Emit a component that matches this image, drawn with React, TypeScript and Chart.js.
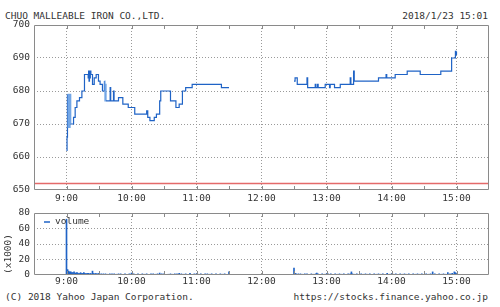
import React, { useEffect, useRef } from "react";
import { Chart, registerables } from "chart.js";
Chart.register(...registerables);

const FONT = '"DejaVu Sans Mono", monospace';
const TEXT = "#333333";
const GRID = "#9a9a9a";
const FRAME = "#8a8a8a";
const LINE = "#1f63c6";
const LIGHT = "#72a6e6";
const RED = "#e46a6a";

const TITLE = "CHUO MALLEABLE IRON CO.,LTD.";
const STAMP = "2018/1/23 15:01";
const COPYRIGHT = "(C) 2018 Yahoo Japan Corporation.";
const SOURCE = "https://stocks.finance.yahoo.co.jp";
const VOLUME_LABEL = "volume";
const VOLUME_UNIT = "(x1000)";

// x values are minutes after 9:00
const hourLabels = ["9:00", "10:00", "11:00", "12:00", "13:00", "14:00", "15:00"];

const morningMinutes = [
  0, 0.5, 0.9, 1.5, 2.1, 2.7, 3.3, 3.9, 6.5, 8, 9.6, 12, 14.2, 16.6,
  20, 20.4, 20.8, 21.2, 21.6, 22, 22.5, 24, 25.6, 27.4, 29.5, 31, 33.2,
  35, 35.5, 36, 36.5, 40.3, 40.8, 43.4, 43.9, 48, 52, 57, 63, 74, 75, 77,
  81, 83, 86, 87, 96, 101, 104, 107, 110, 116, 143, 150,
];
const morningPrices = [
  662, 666, 679, 669, 679, 669, 679, 670, 672, 675, 677, 678, 680, 685,
  684, 686, 683, 686, 684, 686, 685, 682, 684, 685, 683, 682, 680,
  683, 677, 682, 677, 681, 677, 680, 677, 678, 676, 675, 673, 674, 672, 671,
  672, 673, 677, 680, 677, 675, 676, 680, 681, 682, 681, 681,
];
// stretches traded back and forth so fast that the reference shows them as pale bands
const paleBands = [
  [0.9, 3.9],
  [34.9, 36.5],
];

const afternoonMinutes = [
  210, 211, 213, 222, 222.6, 229.6, 230.2, 231.7, 232.3, 238.8, 242.8, 243.4,
  247.4, 252.7, 261.9, 262.5, 265, 265.6, 288, 295, 295.6, 303.4, 314.5,
  326.5, 345.5, 355.5, 359, 359.5, 360,
];
const afternoonPrices = [
  683, 684, 682, 684, 681, 682, 681, 682, 681, 682, 681, 682,
  681, 682, 684, 682, 686, 683, 684, 685, 684, 685, 686,
  685, 686, 690, 692, 691, 692,
];

const previousClose = 652;

const volumeMinutes = [
  0, 1, 2, 3, 4, 5, 6, 7, 8, 9,
  10, 11, 12, 13, 14, 15, 16, 17, 18, 19,
  20, 21, 22, 23, 24, 25, 26, 27, 28, 29,
  30, 32, 34, 36, 38, 40, 42, 44, 46, 48,
  50, 52, 54, 56, 58, 60, 62, 64, 66, 68,
  70, 72, 74, 76, 78, 80, 82, 84, 86, 88,
  90, 92, 94, 96, 98, 100, 102, 104, 106, 108,
  110, 112, 114, 116, 118, 120, 122, 124, 126, 128,
  130, 132, 134, 136, 138, 140, 142, 144, 146, 148,
  150,
  210, 211, 212, 214, 216, 218, 220, 222, 224, 226,
  228, 230, 231, 232, 234, 236, 238, 240, 241, 242,
  244, 246, 248, 250, 252, 254, 256, 258, 260, 262,
  263, 264, 266, 268, 270, 272, 274, 276, 278, 280,
  282, 284, 286, 288, 290, 292, 294, 296, 298, 300,
  302, 304, 306, 308, 310, 312, 314, 316, 318, 320,
  322, 324, 326, 328, 330, 332, 334, 336, 338, 340,
  342, 344, 346, 348, 350, 352, 354, 356, 358, 359,
  360,
];
const volumeValues = [
  72, 7, 5, 4, 4, 3, 3, 4, 2, 3,
  3, 2, 2, 3, 2, 2, 3, 2, 1.5, 2,
  2, 1.5, 2, 1.5, 5, 2, 1.5, 2, 1.5, 1.5,
  2, 1.5, 1.5, 1.5, 1, 1.5, 1.5, 1.5, 1, 1.5,
  1.5, 1, 1.5, 1, 1.5, 2.5, 1.5, 1, 1.5, 1,
  1.5, 1, 1.5, 1, 1.5, 1.5, 1, 1.5, 2.5, 1.5,
  1.5, 1, 1, 1.5, 1, 1.5, 1.5, 2, 1.5, 1,
  1.5, 1, 2, 1, 1.5, 1.5, 1, 1.5, 1, 1.5,
  1.5, 1, 1.5, 1, 1.5, 1, 1.5, 1, 1.5, 1,
  4,
  9, 2, 1.5, 1.5, 1.5, 1, 1.5, 1.5, 1, 1.5,
  1, 1.5, 2.5, 1.5, 1, 1.5, 1, 1.5, 2, 1,
  1.5, 1, 1.5, 1, 1.5, 1, 1.5, 1, 1.5, 1.5,
  4, 1.5, 1, 1.5, 1, 1.5, 1, 1.5, 1, 1.5,
  1, 1.5, 1, 1.5, 1, 1.5, 1, 2, 1, 1.5,
  1, 1.5, 1, 1.5, 1, 1.5, 1, 1.5, 1, 1.5,
  1, 1.5, 1, 1.5, 1, 1.5, 1, 1.5, 4, 1.5,
  1, 1.5, 1, 1.5, 1, 3, 1.5, 2, 4, 3,
  1.5,
];

const X_MIN = -30;
const X_MAX = 390;

const pts = (xs: number[], ys: number[]) => xs.map((x, i) => ({ x, y: ys[i] }));

const hourLabel = (v: number) => (v % 60 === 0 && v >= 0 ? hourLabels[v / 60] ?? "" : "");

const inPaleBand = (x: number) => paleBands.some(([a, b]) => x >= a && x < b);

const framePlugin = {
  id: "frame",
  afterDatasetsDraw(chart: any) {
    const { ctx, chartArea: a, scales } = chart;
    const x = scales.x;
    ctx.save();
    ctx.strokeStyle = FRAME;
    ctx.lineWidth = 1;
    ctx.beginPath();
    ctx.rect(Math.round(a.left) + 0.5, Math.round(a.top) + 0.5, Math.round(a.right - a.left) - 1, Math.round(a.bottom - a.top) - 1);
    for (let m = 0; m <= 360; m += 30) {
      const px = Math.round(x.getPixelForValue(m)) + 0.5;
      ctx.moveTo(px, a.top);
      ctx.lineTo(px, a.top + 4);
      ctx.moveTo(px, a.bottom);
      ctx.lineTo(px, a.bottom - 4);
    }
    ctx.stroke();
    ctx.restore();
  },
};

const volumeDecor = {
  id: "volumeDecor",
  afterDraw(chart: any) {
    const { ctx, chartArea: a } = chart;
    ctx.save();
    ctx.font = `9.5px ${FONT}`;
    ctx.fillStyle = TEXT;
    ctx.textBaseline = "middle";
    const ly = a.top + 9;
    ctx.strokeStyle = LINE;
    ctx.lineWidth = 1.5;
    ctx.beginPath();
    ctx.moveTo(a.left + 10, ly);
    ctx.lineTo(a.left + 16, ly);
    ctx.stroke();
    ctx.textAlign = "left";
    ctx.fillText(VOLUME_LABEL, a.left + 21, ly);
    ctx.translate(8.5, (a.top + a.bottom) / 2 + 10);
    ctx.rotate(-Math.PI / 2);
    ctx.textAlign = "center";
    ctx.fillText(VOLUME_UNIT, 0, 0);
    ctx.restore();
  },
};

const tickFont = { family: FONT, size: 9.5 };

const xScale = (labelPad: number, height: number) => ({
  type: "linear" as const,
  min: X_MIN,
  max: X_MAX,
  offset: false,
  grid: {
    offset: false,
    drawTicks: false,
    lineWidth: 1,
    color: (c: any) => (c.tick && c.tick.value % 60 === 0 ? GRID : "rgba(0,0,0,0)"),
  },
  border: { display: false, dash: [1, 2] },
  ticks: {
    stepSize: 30,
    autoSkip: false,
    maxRotation: 0,
    minRotation: 0,
    padding: labelPad,
    font: tickFont,
    color: TEXT,
    callback: (v: any) => hourLabel(Number(v)),
  },
  afterFit: (s: any) => {
    s.height = height;
    s.paddingLeft = 0;
    s.paddingRight = 0;
  },
});

const yScale = (min: number, max: number, step: number) => ({
  type: "linear" as const,
  min,
  max,
  grid: {
    drawTicks: false,
    lineWidth: 1,
    color: (c: any) => (c.tick && c.tick.value > min && c.tick.value < max ? GRID : "rgba(0,0,0,0)"),
  },
  border: { display: false, dash: [1, 2] },
  ticks: { stepSize: step, padding: 4, font: tickFont, color: TEXT },
  afterFit: (s: any) => {
    s.width = 34;
    s.paddingTop = 0;
    s.paddingBottom = 0;
  },
});

export default function App() {
  const priceRef = useRef<HTMLCanvasElement>(null);
  const volRef = useRef<HTMLCanvasElement>(null);

  useEffect(() => {
    const price = new Chart(priceRef.current!, {
      type: "line",
      data: {
        datasets: [
          {
            data: [
              { x: X_MIN, y: previousClose },
              { x: X_MAX, y: previousClose },
            ],
            borderColor: RED,
            borderWidth: 1.5,
            pointRadius: 0,
          },
          {
            data: pts(morningMinutes, morningPrices),
            borderColor: LINE,
            borderWidth: 1.2,
            pointRadius: 0,
            stepped: true,
            segment: {
              borderColor: (ctx: any) => (inPaleBand(ctx.p0.parsed.x) ? LIGHT : undefined),
            },
          },
          {
            data: pts(afternoonMinutes, afternoonPrices),
            borderColor: LINE,
            borderWidth: 1.2,
            pointRadius: 0,
            stepped: true,
          },
        ],
      },
      options: {
        responsive: false,
        animation: false,
        parsing: false,
        layout: { padding: { top: 25, right: 11, left: 0, bottom: 0 } },
        plugins: { legend: { display: false }, tooltip: { enabled: false } },
        scales: { x: xScale(3, 15), y: yScale(650, 700, 10) },
      } as any,
      plugins: [framePlugin],
    });

    const vol = new Chart(volRef.current!, {
      type: "bar",
      data: {
        datasets: [
          {
            data: pts(volumeMinutes, volumeValues),
            backgroundColor: LINE,
            borderWidth: 0,
            barThickness: 1,
          },
        ],
      },
      options: {
        responsive: false,
        animation: false,
        parsing: false,
        layout: { padding: { top: 8, right: 11, left: 0, bottom: 0 } },
        plugins: { legend: { display: false }, tooltip: { enabled: false } },
        scales: { x: xScale(1, 15), y: yScale(0, 80, 20) },
      } as any,
      plugins: [framePlugin, volumeDecor],
    });

    return () => {
      price.destroy();
      vol.destroy();
    };
  }, []);

  const textStyle: React.CSSProperties = {
    position: "absolute",
    fontSize: 9.5,
    lineHeight: "11px",
    whiteSpace: "pre",
  };

  return (
    <div
      style={{
        position: "absolute",
        left: 0,
        top: 0,
        width: 500,
        height: 307,
        background: "#ffffff",
        fontFamily: FONT,
        color: TEXT,
        overflow: "hidden",
      }}
    >
      <div style={{ ...textStyle, left: 5, top: 9.5 }}>{TITLE}</div>
      <div style={{ ...textStyle, right: 12, top: 9.5 }}>{STAMP}</div>
      <canvas ref={priceRef} width={500} height={205} style={{ position: "absolute", left: 0, top: 0 }} />
      <canvas ref={volRef} width={500} height={85} style={{ position: "absolute", left: 0, top: 205 }} />
      <div style={{ ...textStyle, left: 5, top: 290.5 }}>{COPYRIGHT}</div>
      <div style={{ ...textStyle, right: 12, top: 290.5 }}>{SOURCE}</div>
    </div>
  );
}
